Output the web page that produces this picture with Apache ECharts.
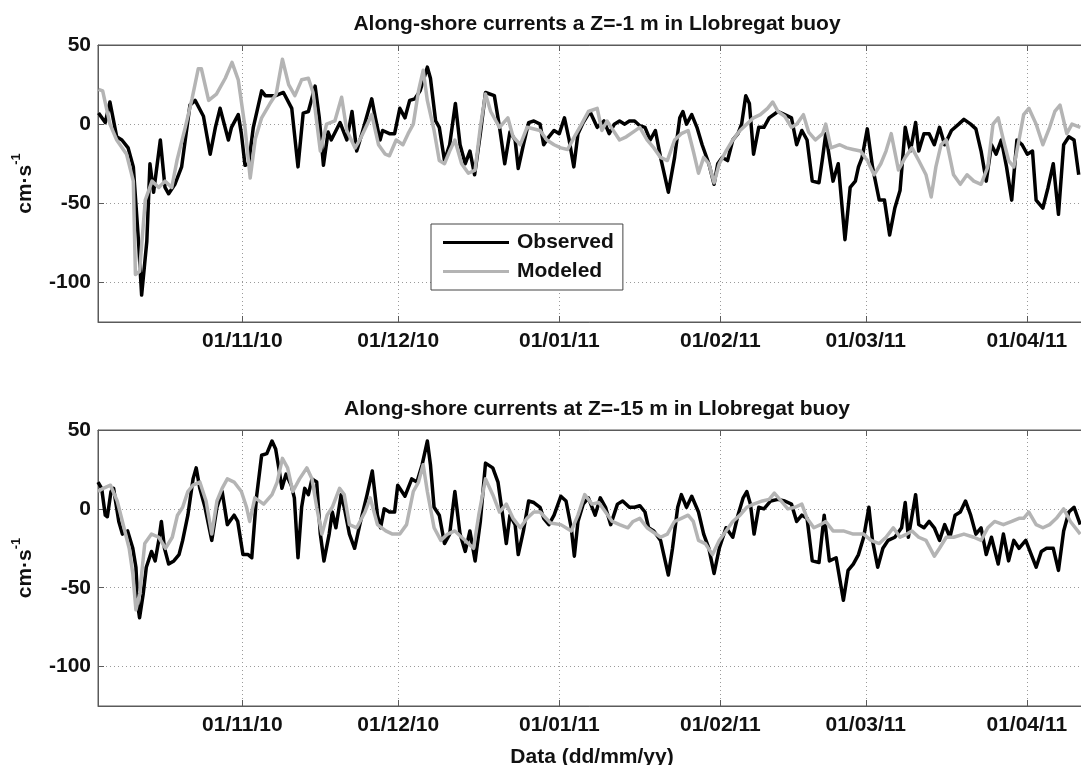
<!DOCTYPE html>
<html>
<head>
<meta charset="utf-8">
<title>Along-shore currents</title>
<script src="https://cdn.jsdelivr.net/npm/echarts@6/dist/echarts.min.js"></script>
<style>
	html,body{margin:0;padding:0;background:#fff;}
	#chart{width:1081px;height:765px;}
</style>
</head>
<body>
<div id="chart"></div>
<script>
// x values are days counted from 01/10/2010 00:00 (01/11/10 = day 31)
var tickDays = [31, 61, 92, 123, 151, 182];
var tickLabels = ['01/11/10', '01/12/10', '01/01/11', '01/02/11', '01/03/11', '01/04/11'];
var yTicks = [-100, -50, 0, 50];

var titles = ['Along-shore currents a Z=-1 m in Llobregat buoy', 'Along-shore currents at Z=-15 m in Llobregat buoy'];

// Z = -1 m
var obsTop = [[3.3,7],[4.6,1],[5.5,14],[6.8,-8],[7.8,-10],[9.0,-15],[10.0,-27],[11.0,-74],[11.6,-108],[12.6,-74],[13.2,-25],[13.9,-43],[15.2,-10],[16.1,-40],[16.8,-44],[18.0,-38],[19.3,-27],[20.9,12],[21.9,15],[23.5,5],[24.8,-19],[25.8,-2],[26.7,10],[28.3,-10],[28.9,-2],[30.2,6],[30.8,-6],[31.5,-26],[32.2,-25],[33.1,-2],[34.7,21],[35.4,18],[37.4,18],[38.9,20],[40.5,10],[41.7,-27],[42.7,7],[43.7,8],[45.0,24],[45.8,4],[46.6,-26],[47.5,-5],[48.1,-10],[49.8,1],[51.1,-10],[52.1,8],[53.0,-17],[54.0,-6],[55.9,16],[56.6,4],[57.5,-10],[58.0,-4],[59.3,-6],[60.3,-6],[61.3,10],[62.3,4],[63.2,15],[64.2,16],[65.2,21],[66.6,36],[67.2,29],[68.2,2],[68.9,-2],[69.9,-23],[70.9,-13],[72.0,13],[72.9,-13],[73.9,-25],[74.8,-17],[75.7,-32],[76.8,-6],[77.8,20],[79.5,18],[80.5,-2],[81.5,-25],[82.5,-5],[83.5,-10],[84.1,-28],[85.1,-13],[86.1,1],[87.1,2],[88.3,0],[89.0,-13],[90.0,-8],[91.0,-4],[92.0,-6],[93.0,4],[93.9,-10],[94.8,-27],[95.6,-6],[96.6,1],[97.9,8],[99.3,-2],[100.6,2],[101.6,-6],[102.6,0],[103.6,2],[104.6,0],[105.5,2],[106.5,2],[107.5,-1],[108.5,-2],[109.5,-10],[110.5,-4],[111.5,-21],[113.0,-43],[114.2,-21],[115.2,4],[115.8,8],[116.5,0],[117.5,6],[118.5,-2],[119.5,-13],[120.8,-25],[121.8,-38],[122.5,-25],[123.4,-21],[124.4,-23],[125.4,-10],[126.4,-6],[127.1,0],[127.9,18],[128.6,13],[129.4,-19],[130.4,-2],[131.4,-2],[132.4,4],[134.1,8],[135.4,6],[136.7,4],[137.7,-13],[138.7,-4],[139.7,-10],[140.7,-36],[142.0,-37],[142.7,-21],[143.3,-6],[144.7,-36],[145.7,-25],[147.0,-73],[148.0,-40],[149.0,-36],[149.6,-27],[150.3,-21],[151.3,-3],[152.3,-27],[153.6,-48],[154.6,-48],[155.6,-70],[156.6,-53],[157.6,-42],[158.6,-2],[159.6,-17],[160.6,1],[161.2,-17],[162.2,-6],[163.2,-6],[164.2,-13],[165.2,-2],[166.2,-13],[167.5,-4],[168.9,0],[169.9,3],[171.2,0],[172.2,-3],[173.2,-17],[174.2,-36],[175.2,-13],[176.1,-19],[177.1,-10],[178.1,-27],[179.1,-48],[180.1,-10],[181.1,-13],[182.1,-19],[183.1,-17],[183.8,-48],[185.1,-53],[186.1,-40],[187.1,-25],[188.1,-57],[189.1,-13],[190.1,-8],[191.1,-10],[192.0,-32]];
var modTop = [[3.3,22],[4.1,21],[5.5,0],[6.8,-10],[8.7,-19],[10.0,-36],[10.4,-95],[11.2,-93],[12.3,-48],[13.6,-36],[14.9,-40],[16.1,-36],[17.4,-40],[18.4,-23],[20.0,-2],[21.3,16],[22.5,35],[23.1,35],[24.5,15],[26.0,19],[27.7,29],[29.0,39],[30.2,28],[31.5,-2],[32.5,-34],[33.5,-9],[34.7,4],[36.3,13],[37.5,19],[38.7,41],[39.9,25],[41.1,18],[42.4,28],[43.7,29],[44.6,20],[46.0,-17],[47.2,0],[48.8,2],[50.1,17],[51.1,-4],[52.7,-15],[53.6,-10],[55.9,6],[57.2,-13],[58.5,-19],[59.3,-20],[60.6,-10],[61.9,-13],[62.9,-6],[63.9,0],[64.9,21],[65.8,34],[66.6,15],[67.9,-4],[68.9,-23],[69.9,-25],[70.9,-17],[71.9,-10],[73.2,-25],[74.5,-31],[75.8,-29],[76.8,-2],[77.8,19],[78.8,8],[80.5,-2],[82.1,4],[83.1,-8],[84.5,-13],[85.8,-2],[88.3,-4],[89.6,-10],[91.0,-13],[92.3,-15],[93.6,-16],[94.9,-8],[96.3,0],[97.6,8],[99.3,10],[100.2,-4],[101.2,2],[102.2,-3],[103.6,-10],[104.9,-8],[106.2,-5],[107.5,-2],[108.9,-10],[110.2,-15],[111.5,-21],[112.8,-23],[114.2,-10],[115.5,-6],[116.8,-4],[117.8,-17],[118.8,-31],[119.8,-21],[120.8,-25],[121.8,-37],[122.8,-25],[124.1,-17],[125.4,-10],[126.8,-4],[128.1,0],[129.4,4],[130.7,6],[132.1,10],[133.1,14],[134.1,8],[135.4,5],[136.7,-2],[137.7,0],[139.0,6],[140.0,-5],[141.3,-10],[142.7,-6],[143.3,0],[144.3,-15],[146.0,-13],[147.3,-15],[148.6,-16],[150.0,-17],[151.3,-23],[152.6,-32],[153.9,-25],[154.9,-17],[155.9,-6],[157.3,-29],[158.6,-21],[159.9,-15],[161.2,-23],[162.6,-32],[163.6,-46],[164.5,-27],[165.5,-13],[166.5,-10],[167.9,-32],[169.2,-38],[170.5,-32],[171.8,-36],[173.2,-38],[174.5,-27],[175.5,0],[176.5,4],[177.5,-10],[178.5,-23],[179.5,-27],[180.5,-10],[181.4,6],[182.4,10],[183.8,0],[185.1,-13],[186.4,-2],[187.4,8],[188.4,12],[189.7,-6],[190.7,0],[192.3,-2]];

// Z = -15 m
var obsBot = [[3.2,17],[3.9,13],[4.6,-4],[5.0,-5],[5.7,11],[6.2,13],[7.2,-8],[7.9,-16],[8.9,-14],[9.9,-25],[10.5,-37],[10.9,-62],[11.2,-69],[11.9,-54],[12.5,-37],[13.5,-27],[14.2,-33],[14.9,-20],[15.4,-8],[16.0,-25],[16.8,-35],[17.8,-33],[18.8,-29],[19.5,-20],[20.5,-4],[21.5,19],[22.1,26],[22.8,13],[23.8,1],[25.1,-20],[26.1,1],[27.1,11],[28.1,-10],[29.4,-4],[30.1,-8],[31.1,-29],[32.1,-29],[32.8,-31],[33.7,7],[34.7,34],[35.7,35],[36.7,43],[37.4,38],[38.1,24],[38.6,13],[39.4,22],[40.4,15],[41.0,7],[41.7,-31],[42.4,1],[43.0,13],[43.7,9],[44.4,19],[45.3,17],[46.0,-16],[46.7,-33],[47.7,-16],[48.3,-2],[49.0,-12],[50.0,9],[50.6,1],[51.6,-16],[52.6,-25],[53.6,-10],[55.0,9],[56.0,24],[57.0,-4],[57.6,-12],[58.3,0],[59.3,-2],[60.3,-2],[60.9,15],[62.3,8],[63.6,19],[64.6,17],[65.6,28],[66.6,43],[67.2,28],[67.9,1],[68.9,-4],[69.9,-22],[70.9,-16],[71.9,11],[72.9,-16],[73.9,-27],[74.8,-14],[75.8,-33],[76.8,-8],[77.8,29],[79.2,26],[80.2,17],[81.1,-4],[81.8,-22],[82.5,-4],[83.5,-10],[84.1,-29],[85.1,-14],[86.1,5],[87.1,4],[88.3,1],[89.0,-6],[90.0,-10],[91.0,-4],[92.3,8],[93.3,5],[94.3,-12],[94.9,-30],[95.6,-8],[96.6,3],[97.6,7],[98.9,-4],[99.9,7],[100.9,1],[101.9,-10],[103.2,3],[104.2,5],[105.5,1],[106.5,1],[107.5,2],[108.5,-2],[109.2,-12],[110.2,-14],[111.5,-20],[113.0,-42],[113.8,-25],[114.8,1],[115.5,9],[116.5,1],[117.5,8],[118.8,-2],[119.8,-16],[120.8,-25],[121.8,-41],[122.8,-25],[124.1,-12],[125.4,-18],[126.4,-4],[127.4,7],[128.1,11],[128.8,3],[129.5,-16],[130.4,1],[131.4,0],[132.7,5],[134.1,6],[135.4,5],[136.7,3],[137.7,-8],[138.7,-4],[139.7,-6],[140.7,-33],[142.0,-34],[143.0,-4],[144.0,-33],[145.3,-31],[146.7,-58],[147.6,-39],[148.6,-35],[149.6,-29],[150.6,-18],[151.6,1],[152.3,-20],[153.3,-37],[154.3,-25],[155.3,-20],[156.6,-18],[157.9,-12],[158.6,4],[159.2,-18],[160.6,9],[161.2,-10],[162.2,-12],[163.2,-8],[164.2,-12],[165.2,-20],[166.2,-10],[167.2,-18],[168.2,-4],[169.2,-2],[170.2,5],[171.2,-4],[172.2,-16],[173.2,-12],[174.2,-29],[175.2,-18],[176.5,-35],[177.5,-16],[178.5,-33],[179.5,-20],[180.5,-25],[181.8,-20],[182.4,-25],[183.8,-37],[184.8,-27],[185.8,-25],[187.1,-25],[188.1,-39],[189.1,-14],[190.1,-2],[191.1,1],[192.3,-10]];
var modBot = [[3.2,11],[4.2,13],[5.6,15],[6.9,5],[8.2,-12],[9.2,-25],[9.9,-41],[10.5,-64],[11.2,-54],[12.2,-22],[13.5,-16],[14.9,-18],[16.2,-25],[17.5,-18],[18.5,-4],[19.5,1],[20.5,11],[21.5,15],[22.8,17],[24.0,5],[25.1,-16],[26.1,5],[27.1,13],[28.1,19],[29.4,17],[30.8,11],[31.8,1],[32.4,-8],[33.4,7],[35.1,3],[36.7,9],[37.7,17],[38.7,32],[39.7,26],[40.7,11],[42.0,19],[43.4,26],[44.4,19],[45.3,1],[46.3,-16],[47.3,-4],[48.3,1],[49.7,13],[50.6,9],[51.6,-10],[53.0,-12],[54.6,-2],[55.6,7],[57.0,-10],[58.6,-14],[59.9,-16],[61.3,-16],[62.6,-10],[63.9,11],[64.9,17],[65.8,28],[66.6,11],[67.9,-12],[69.2,-20],[70.5,-16],[71.9,-14],[73.2,-18],[74.5,-22],[75.5,-25],[76.5,-4],[77.8,19],[79.2,9],[80.5,-2],[81.8,3],[83.1,-6],[84.5,-12],[85.8,-6],[87.1,-2],[88.3,-2],[90.3,-9],[92.3,-10],[94.3,-14],[95.6,-4],[96.9,9],[98.3,3],[99.6,4],[100.9,-2],[102.2,-8],[103.6,-10],[105.2,-12],[106.2,-8],[107.5,-6],[108.9,-12],[110.2,-15],[111.5,-18],[112.8,-16],[114.2,-8],[115.5,-6],[116.8,-4],[117.8,-8],[118.8,-20],[120.1,-22],[121.5,-29],[122.8,-20],[124.1,-14],[125.4,-8],[126.8,-4],[128.1,1],[129.4,3],[131.1,5],[132.4,6],[133.4,10],[134.7,5],[136.0,0],[137.4,1],[138.7,3],[139.7,-6],[141.0,-12],[142.3,-10],[143.3,-8],[144.7,-14],[146.7,-14],[148.6,-16],[150.6,-16],[152.0,-20],[153.6,-22],[154.9,-18],[156.3,-12],[157.6,-18],[158.9,-16],[159.9,-14],[161.2,-18],[162.6,-20],[164.2,-30],[165.2,-25],[166.5,-18],[167.9,-18],[169.9,-16],[171.8,-18],[173.2,-20],[174.5,-12],[175.8,-8],[177.5,-10],[179.1,-8],[180.5,-6],[181.4,-6],[182.4,-2],[183.8,-10],[185.1,-12],[186.4,-10],[187.7,-6],[189.1,0],[190.4,-8],[192.3,-16]];

var FONT = '"Liberation Sans", Arial, Helvetica, sans-serif';
var dayMin = 3.2, dayMax = 193.4;

function xAxisOf(gridIndex, onTop){
	return {
		type: 'value',
		gridIndex: gridIndex,
		position: onTop ? 'top' : 'bottom',
		min: dayMin,
		max: dayMax,
		axisLine: {show: true, onZero: false, lineStyle: {color: '#5a5a5a', width: 1}},
		axisTick: {show: true, inside: true, length: 6, customValues: tickDays, lineStyle: {color: '#5a5a5a'}},
		axisLabel: {
			show: !onTop,
			customValues: tickDays,
			margin: 9,
			color: '#111',
			fontFamily: FONT,
			fontWeight: 'bold',
			fontSize: 21,
			formatter: function(v){
				var i = tickDays.indexOf(v);
				return i >= 0 ? tickLabels[i] : '';
			}
		},
		splitLine: {show: !onTop, lineStyle: {color: '#9a9a9a', width: 1, type: [1, 3]}},
		name: (gridIndex == 1 && !onTop) ? 'Data (dd/mm/yy)' : '',
		nameLocation: 'middle',
		nameGap: 41,
		nameTextStyle: {color: '#111', fontFamily: FONT, fontWeight: 'bold', fontSize: 21}
	};
}

function yAxisOf(gridIndex){
	return {
		type: 'value',
		gridIndex: gridIndex,
		min: -125,
		max: 50,
		axisLine: {show: true, lineStyle: {color: '#5a5a5a', width: 1}},
		axisTick: {show: true, inside: true, length: 6, customValues: yTicks, lineStyle: {color: '#5a5a5a'}},
		axisLabel: {customValues: yTicks, margin: 7, color: '#111', fontFamily: FONT, fontWeight: 'bold', fontSize: 21},
		splitLine: {show: true, lineStyle: {color: '#9a9a9a', width: 1, type: [1, 3]}},
		name: 'cm·s{sup|-1}',
		nameLocation: 'middle',
		nameRotate: 90,
		nameGap: 58,
		nameTextStyle: {
			color: '#111', fontFamily: FONT, fontWeight: 'bold', fontSize: 21,
			rich: {sup: {fontFamily: FONT, fontWeight: 'bold', fontSize: 13, color: '#111', verticalAlign: 'top', lineHeight: 30}}
		}
	};
}

function lineOf(name, data, idx, color){
	return {
		name: name,
		type: 'line',
		xAxisIndex: idx,
		yAxisIndex: idx,
		data: data,
		showSymbol: false,
		symbol: 'none',
		animation: false,
		clip: true,
		lineStyle: {color: color, width: 3.5, join: 'round'},
		itemStyle: {color: color}
	};
}

var chart = echarts.init(document.getElementById('chart'));
var option = {
	backgroundColor: '#fff',
	animation: false,
	title: [
		{text: titles[0], left: 592, top: 9, textAlign: 'center', textStyle: {color: '#111', fontFamily: FONT, fontWeight: 'bold', fontSize: 21}},
		{text: titles[1], left: 592, top: 394, textAlign: 'center', textStyle: {color: '#111', fontFamily: FONT, fontWeight: 'bold', fontSize: 21}}
	],
	legend: {
		data: ['Observed', 'Modeled'],
		orient: 'vertical',
		left: 431,
		top: 224,
		padding: [8, 9, 8, 12],
		itemGap: 8,
		itemWidth: 66,
		itemHeight: 3,
		icon: 'rect',
		backgroundColor: '#fff',
		borderColor: '#444',
		borderWidth: 1,
		borderRadius: 0,
		textStyle: {color: '#111', fontFamily: FONT, fontWeight: 'bold', fontSize: 21, lineHeight: 21, padding: [0, 0, 0, 3]}
	},
	// plot box runs a few pixels past the right edge of the picture, as in the original
	grid: [
		{left: 98, top: 45, width: 988, height: 277, outerBoundsMode: 'none', show: true, borderColor: '#5a5a5a', borderWidth: 1, backgroundColor: '#fff'},
		{left: 98, top: 430, width: 988, height: 276, outerBoundsMode: 'none', show: true, borderColor: '#5a5a5a', borderWidth: 1, backgroundColor: '#fff'}
	],
	xAxis: [xAxisOf(0, false), xAxisOf(1, false), xAxisOf(0, true), xAxisOf(1, true)],
	yAxis: [yAxisOf(0), yAxisOf(1)],
	series: [
		lineOf('Observed', obsTop, 0, '#000'),
		lineOf('Modeled', modTop, 0, '#b4b4b4'),
		lineOf('Observed', obsBot, 1, '#000'),
		lineOf('Modeled', modBot, 1, '#b4b4b4')
	]
};
chart.setOption(option);
</script>
</body>
</html>
